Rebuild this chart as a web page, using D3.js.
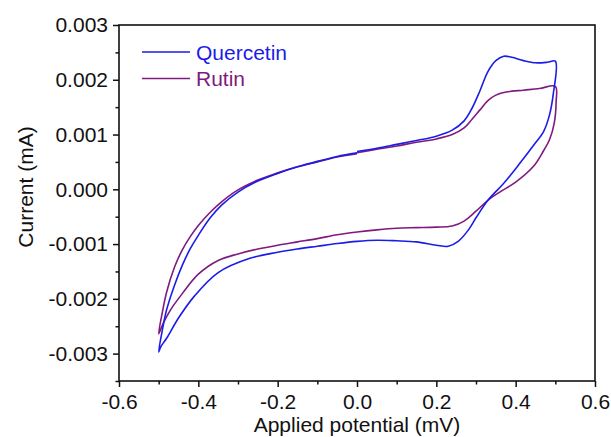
<!DOCTYPE html>
<html><head><meta charset="utf-8">
<script src="https://cdn.jsdelivr.net/npm/d3@7/dist/d3.min.js"></script>
<style>body{margin:0;background:#fff}svg{display:block}text{font-family:"Liberation Sans",Arial,sans-serif}</style>
</head><body>
<script>
const W = 611, H = 437;
const seriesNames = ["Quercetin", "Rutin"];
const seriesColors = ["#1c1ce8", "#7f1a7e"];
// potential (mV) along the scan, current (mA, x1e-3)
const quercetinV = [0.0,0.05,0.10,0.15,0.20,0.24,0.27,0.29,0.31,0.33,0.35,0.37,0.39,0.42,0.45,0.48,0.50,
  0.495,0.485,0.47,0.45,0.41,0.37,0.33,0.30,0.28,0.255,0.23,0.20,0.15,0.10,0.05,0.0,-0.05,-0.10,-0.15,-0.20,-0.27,-0.35,-0.41,-0.45,-0.48,-0.495,-0.50,
  -0.492,-0.48,-0.46,-0.44,-0.42,-0.40,-0.37,-0.34,-0.30,-0.25,-0.20,-0.15,-0.10,-0.05,0.0];
const quercetinI = [0.69,0.75,0.82,0.89,0.97,1.08,1.25,1.48,1.80,2.15,2.35,2.43,2.41,2.35,2.31,2.32,2.34,
  1.75,1.35,1.05,0.85,0.47,0.11,-0.20,-0.52,-0.75,-0.95,-1.04,-1.02,-0.96,-0.94,-0.93,-0.95,-0.99,-1.04,-1.09,-1.15,-1.26,-1.52,-1.95,-2.35,-2.72,-2.88,-2.97,
  -2.62,-2.20,-1.75,-1.38,-1.08,-0.84,-0.52,-0.28,-0.05,0.15,0.29,0.41,0.51,0.60,0.665];
const rutinV = [0.0,0.05,0.10,0.15,0.20,0.24,0.27,0.29,0.31,0.33,0.35,0.38,0.42,0.46,0.50,
  0.502,0.497,0.485,0.47,0.445,0.40,0.36,0.33,0.30,0.27,0.24,0.20,0.15,0.10,0.05,0.0,-0.05,-0.10,-0.15,-0.20,-0.25,-0.30,-0.35,-0.40,-0.44,-0.47,-0.49,-0.50,
  -0.49,-0.48,-0.46,-0.44,-0.42,-0.40,-0.37,-0.34,-0.30,-0.25,-0.20,-0.15,-0.10,-0.05,0.0];
const rutinI = [0.67,0.73,0.79,0.86,0.92,1.0,1.12,1.28,1.45,1.62,1.72,1.78,1.81,1.84,1.88,
  1.60,1.20,0.90,0.70,0.42,0.13,-0.05,-0.20,-0.40,-0.58,-0.67,-0.69,-0.70,-0.71,-0.74,-0.78,-0.83,-0.90,-0.96,-1.02,-1.09,-1.18,-1.30,-1.55,-1.90,-2.20,-2.47,-2.64,
  -2.22,-1.88,-1.42,-1.10,-0.86,-0.66,-0.42,-0.22,-0.01,0.17,0.30,0.41,0.50,0.59,0.65];
const xTicks = [-0.6,-0.4,-0.2,0.0,0.2,0.4,0.6];
const xTickLabels = ["-0.6","-0.4","-0.2","0.0","0.2","0.4","0.6"];
const yTicks = [-0.003,-0.002,-0.001,0.000,0.001,0.002,0.003];
const yTickLabels = ["-0.003","-0.002","-0.001","0.000","0.001","0.002","0.003"];
const xMinor = [-0.5,-0.3,-0.1,0.1,0.3,0.5];
const yMinor = [-0.0035,-0.0025,-0.0015,-0.0005,0.0005,0.0015,0.0025];
const xTitle = "Applied potential (mV)", yTitle = "Current (mA)";

const L = 119, R = 595, T = 25, B = 381;
const x = d3.scaleLinear().domain([-0.6, 0.6]).range([L, R]);
const y = d3.scaleLinear().domain([-0.0035, 0.003]).range([B, T]);

const svg = d3.select("body").append("svg").attr("width", W).attr("height", H);

const series = [
  {name: seriesNames[0], color: seriesColors[0], pts: quercetinV.map((v,i)=>[v, quercetinI[i]*1e-3])},
  {name: seriesNames[1], color: seriesColors[1], pts: rutinV.map((v,i)=>[v, rutinI[i]*1e-3])}
];
const line = d3.line().x(d=>x(d[0])).y(d=>y(d[1])).curve(d3.curveCatmullRom.alpha(0.5));
[series[1], series[0]].forEach(s => {
  svg.append("path").attr("d", line(s.pts)).attr("fill","none").attr("stroke", s.color).attr("stroke-width", 1.6);
});

// axes
const fs = 21;
const xAxis = d3.axisBottom(x).tickValues(xTicks).tickFormat((d,i)=>xTickLabels[i]).tickSize(6).tickPadding(7);
const gx = svg.append("g").attr("transform", `translate(0,${B})`).call(xAxis);
const xAxisMinor = d3.axisBottom(x).tickValues(xMinor).tickFormat("").tickSize(3.5);
const gxm = svg.append("g").attr("transform", `translate(0,${B})`).call(xAxisMinor);
const yAxis = d3.axisLeft(y).tickValues(yTicks).tickFormat((d,i)=>yTickLabels[i]).tickSize(6).tickPadding(5);
const gy = svg.append("g").attr("transform", `translate(${L},0)`).call(yAxis);
const yAxisMinor = d3.axisLeft(y).tickValues(yMinor).tickFormat("").tickSize(3.5);
const gym = svg.append("g").attr("transform", `translate(${L},0)`).call(yAxisMinor);
[gx,gxm,gy,gym].forEach(g=>{
  g.select(".domain").remove();
  g.selectAll("line").attr("stroke","#111").attr("stroke-width",1.5);
  g.selectAll("text").attr("font-size",fs).attr("fill","#111").attr("font-family",'"Liberation Sans",Arial,sans-serif');
});
// frame
svg.append("rect").attr("x",L).attr("y",T).attr("width",R-L).attr("height",B-T)
  .attr("fill","none").attr("stroke","#111").attr("stroke-width",1.6);

// titles
svg.append("text").attr("x", x(0)).attr("y", 432).attr("text-anchor","middle")
  .attr("font-size",21).attr("fill","#111").text(xTitle);
svg.append("text").attr("transform",`translate(33,${(T+B)/2 - 16}) rotate(-90)`).attr("text-anchor","middle")
  .attr("font-size",21).attr("fill","#111").text(yTitle);

// legend
series.forEach((s,i)=>{
  const ly = 52 + i*26.5;
  svg.append("line").attr("x1",142).attr("x2",190).attr("y1",ly).attr("y2",ly).attr("stroke",s.color).attr("stroke-width",1.6);
  svg.append("text").attr("x",196).attr("y",ly+7.5).attr("font-size",21).attr("fill",s.color).text(s.name);
});
</script>
</body></html>
